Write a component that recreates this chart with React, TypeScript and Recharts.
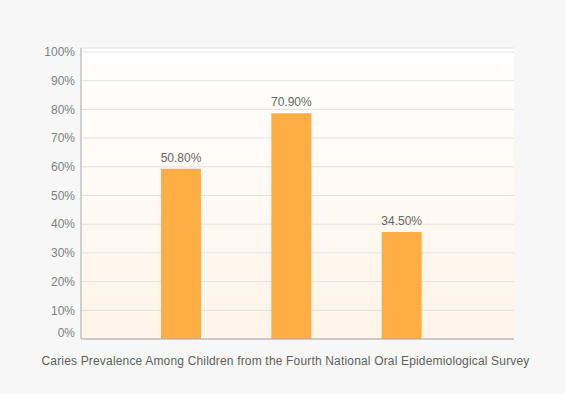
import { BarChart, Bar, XAxis, YAxis, CartesianGrid, LabelList, Label } from "recharts";

// bar heights as drawn, and the text printed above each bar
const CATEGORIES = ["3 years", "4 years", "5 years"];
const BAR_VALUES = [59.3, 78.7, 37.3];
const BAR_LABELS = ["50.80%", "70.90%", "34.50%"];
const Y_TICKS = [0, 10, 20, 30, 40, 50, 60, 70, 80, 90, 100];
const X_TITLE =
  "Caries Prevalence Among Children from the Fourth National Oral Epidemiological Survey";

const data = CATEGORIES.map((name, i) => ({
  name,
  value: BAR_VALUES[i],
  label: BAR_LABELS[i],
}));

const FONT = "'Liberation Sans', Arial, sans-serif";

// the 0% label sits a little above the axis line in the original
function YTick(props: any) {
  const { x, y, payload } = props;
  const lift = payload.value === 0 ? -6 : 0;
  return (
    <text
      x={x}
      y={y + lift}
      dy="0.355em"
      textAnchor="end"
      fill="#808080"
      fontSize={12}
      fontFamily={FONT}
    >
      {`${payload.value}%`}
    </text>
  );
}

export default function App() {
  return (
    <div
      style={{
        position: "absolute",
        left: 0,
        top: 0,
        width: 565,
        height: 394,
        background: "#f7f7f7",
        fontFamily: FONT,
      }}
    >
      <BarChart
        width={565}
        height={394}
        data={data}
        margin={{ top: 48, right: 51, bottom: 11, left: 0 }}
      >
        <defs>
          <linearGradient id="plotBg" x1="0" y1="0" x2="0" y2="1">
            <stop offset="0%" stopColor="#ffffff" />
            <stop offset="100%" stopColor="#fff4e9" />
          </linearGradient>
        </defs>
        <CartesianGrid
          vertical={false}
          stroke="#e2e2e2"
          fill="url(#plotBg)"
          fillOpacity={1}
        />
        <XAxis
          dataKey="name"
          tick={false}
          tickLine={false}
          height={44}
          axisLine={{ stroke: "#a8a8a8" }}
          padding={{ left: 45, right: 57 }}
        >
          <Label
            value={X_TITLE}
            position="center"
            dx={-12}
            fill="#5e5e5e"
            fontSize={12}
            fontFamily={FONT}
            letterSpacing={0.17}
          />
        </XAxis>
        <YAxis
          width={81}
          domain={[0, 100]}
          ticks={Y_TICKS}
          interval={0}
          padding={{ top: 4 }}
          tickLine={false}
          tickSize={0}
          tickMargin={6}
          axisLine={{ stroke: "#a8a8a8" }}
          tick={<YTick />}
        />
        <Bar dataKey="value" fill="#ffae45" barSize={40} isAnimationActive={false}>
          <LabelList
            dataKey="label"
            position="top"
            offset={7}
            fill="#666"
            fontSize={12}
            fontFamily={FONT}
          />
        </Bar>
      </BarChart>
    </div>
  );
}
